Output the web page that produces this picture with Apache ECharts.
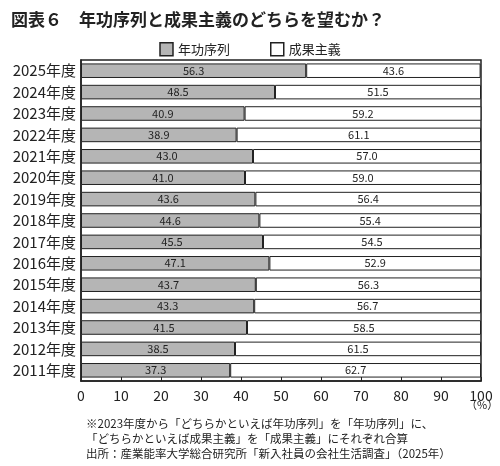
<!DOCTYPE html><html><head><meta charset="utf-8"><script src="https://cdn.jsdelivr.net/npm/echarts@6/dist/echarts.min.js"></script>
<style>body{margin:0;background:#fff}#c{width:500px;height:466px}</style></head><body><div id="c"></div><script>
const years=['2011年度','2012年度','2013年度','2014年度','2015年度','2016年度','2017年度','2018年度','2019年度','2020年度','2021年度','2022年度','2023年度','2024年度','2025年度'];
const seniority=[37.3,38.5,41.5,43.3,43.7,47.1,45.5,44.6,43.6,41.0,43.0,38.9,40.9,48.5,56.3];
const merit=[62.7,61.5,58.5,56.7,56.3,52.9,54.5,55.4,56.4,59.0,57.0,61.1,59.2,51.5,43.6];
const xTicks=[0,10,20,30,40,50,60,70,80,90,100];
const F='"Noto Sans CJK JP",sans-serif';
const ch=echarts.init(document.getElementById('c'));
const lab={show:true,position:'inside',color:'#222',fontSize:11,fontFamily:F,formatter:p=>p.value.toFixed(1)};
ch.setOption({
animation:false,
title:{text:'図表６　年功序列と成果主義のどちらを望むか？',left:6,top:6,textStyle:{fontSize:17,fontWeight:'bold',color:'#222',fontFamily:F}},
legend:{top:37,left:'center',icon:'rect',itemWidth:13,itemHeight:13,itemGap:40,itemStyle:{borderColor:'#222',borderWidth:1.5},textStyle:{fontSize:13,color:'#222',fontFamily:F},data:['年功序列','成果主義']},
grid:{left:81,right:19,top:60,bottom:85},
xAxis:{type:'value',min:0,max:100,interval:10,axisLine:{show:true,lineStyle:{color:'#222',width:1.5}},axisTick:{show:true,inside:true,length:4,lineStyle:{color:'#222'}},splitLine:{show:false},axisLabel:{fontSize:14,color:'#222',fontFamily:F,formatter:v=>xTicks.includes(v)?String(v):''}},
yAxis:{type:'category',data:years,axisLine:{lineStyle:{color:'#222',width:1.5}},axisTick:{show:false},axisLabel:{fontSize:15,color:'#222',fontFamily:F,margin:5}},
series:[
{name:'年功序列',type:'bar',stack:'a',data:seniority,barWidth:'68%',itemStyle:{color:'#b5b5b5',borderColor:'#222',borderWidth:1},label:lab},
{name:'成果主義',type:'bar',stack:'a',data:merit,itemStyle:{color:'#fff',borderColor:'#222',borderWidth:1},label:lab}
],
graphic:[
{type:'rect',shape:{x:81,y:60,width:400,height:321},style:{fill:'none',stroke:'#222',lineWidth:1.5}},
{type:'text',left:466,top:399,style:{text:'（%）',fontSize:11,fill:'#222',fontFamily:F}},
{type:'text',left:86,top:416,style:{text:'※2023年度から「どちらかといえば年功序列」を「年功序列」に、\n「どちらかといえば成果主義」を「成果主義」にそれぞれ合算\n出所：産業能率大学総合研究所「新入社員の会社生活調査」（2025年）',fontSize:11.5,lineHeight:15,fill:'#222',fontFamily:F}}
]});
</script></body></html>
